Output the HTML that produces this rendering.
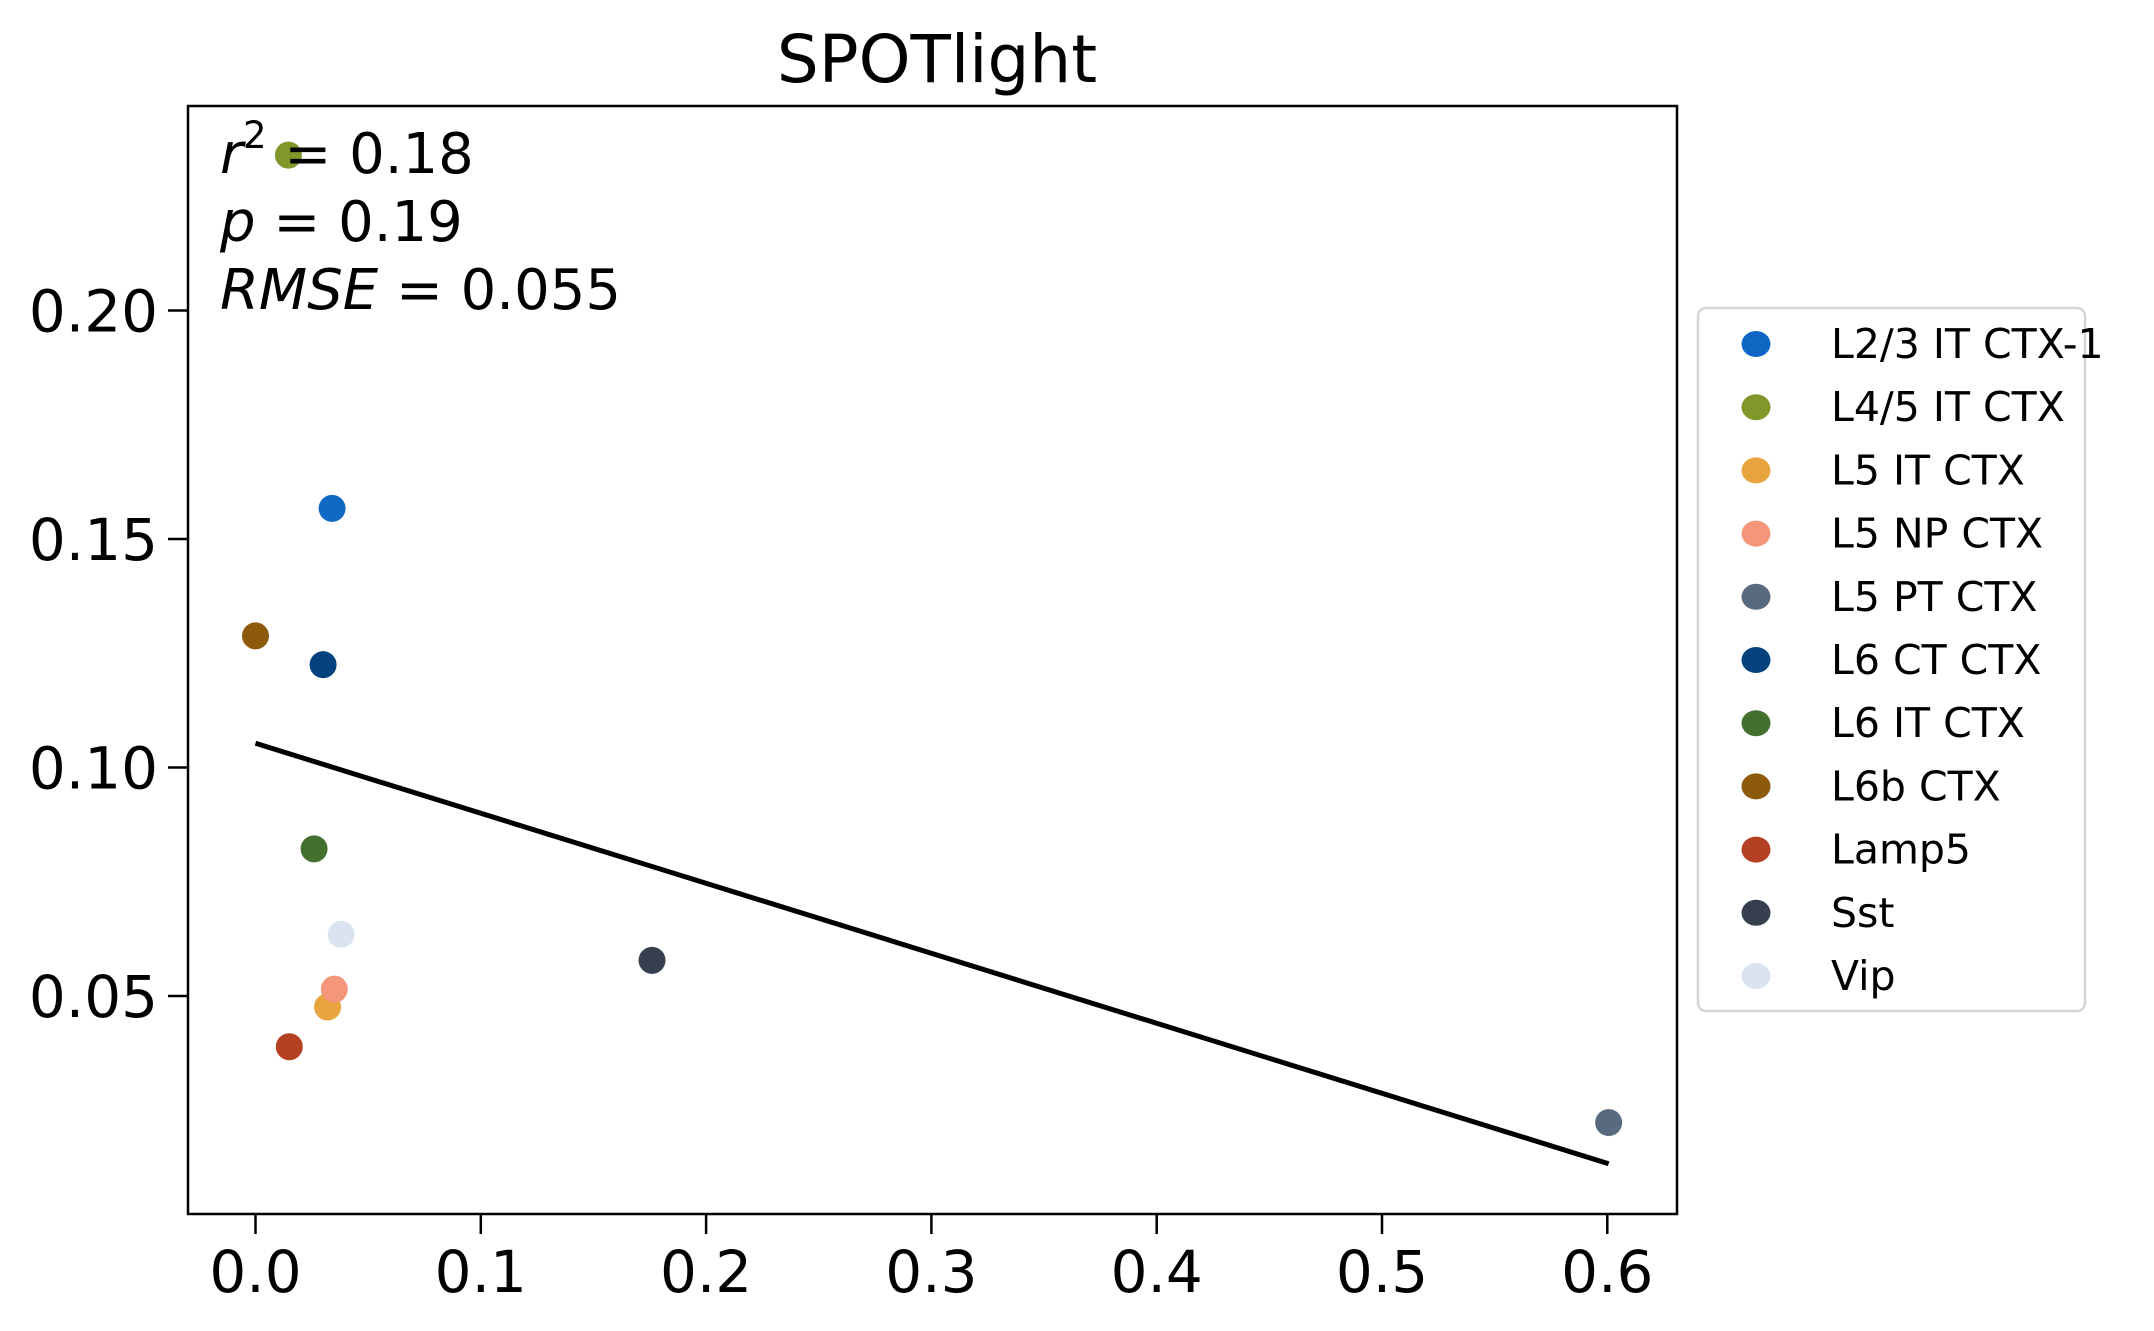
<!DOCTYPE html>
<html><head><meta charset="utf-8"><style>
html,body{margin:0;padding:0;background:#fff;}
svg{display:block;font-family:"DejaVu Sans","Liberation Sans",sans-serif;}
</style></head><body>
<svg id="chart" width="2154" height="1331" viewBox="0 0 2154 1331" xmlns="http://www.w3.org/2000/svg">
<text x="937" y="82" font-size="66" text-anchor="middle">SPOTlight</text>
<g id="plot"></g>
<g id="legend"></g>
<g id="stats" font-size="56">
<text x="220" y="173"><tspan font-style="italic">r</tspan><tspan font-size="37" dy="-25">2</tspan><tspan dy="25"> = 0.18</tspan></text>
<text x="220" y="241"><tspan font-style="italic">p</tspan> = 0.19</text>
<text x="220" y="309"><tspan font-style="italic">RMSE</tspan> = 0.055</text>
</g>
</svg>
<script>
const categories = ["L2/3 IT CTX-1","L4/5 IT CTX","L5 IT CTX","L5 NP CTX","L5 PT CTX","L6 CT CTX","L6 IT CTX","L6b CTX","Lamp5","Sst","Vip"];
const colors = ["#0f68c4","#80972a","#e8a43e","#f3967a","#586a7e","#03417f","#43702f","#8d5a0c","#b54022","#363f4d","#d9e4f0"];
const xValues = [0.034,0.0146,0.032,0.035,0.6006,0.030,0.026,0.0,0.015,0.176,0.038];
const yValues = [0.1567,0.234,0.0476,0.0515,0.0223,0.1225,0.0822,0.1288,0.0389,0.0578,0.0635];
const fitX = [0.0,0.6006];
const fitY = [0.1053,0.0133];
const xTicks = [0.0,0.1,0.2,0.3,0.4,0.5,0.6];
const xTickLabels = ["0.0","0.1","0.2","0.3","0.4","0.5","0.6"];
const yTicks = [0.05,0.10,0.15,0.20];
const yTickLabels = ["0.05","0.10","0.15","0.20"];

const NS="http://www.w3.org/2000/svg";
const L=188,R=1677,T=106,B=1214;
const xs=v=>255.5+v*2253;
const ys=v=>996-(v-0.05)*4570;
function mk(tag,attrs,parent){const e=document.createElementNS(NS,tag);for(const k in attrs)e.setAttribute(k,attrs[k]);parent.appendChild(e);return e;}
const plot=document.getElementById('plot');
const frame=mk('rect',{x:L,y:T,width:R-L,height:B-T,fill:'none',stroke:'#000','stroke-width':2.5},plot);


xTicks.forEach((t,i)=>{
  const x=xs(t);
  const tk=mk('line',{x1:x,x2:x,y1:B,y2:B+20,stroke:'#000','stroke-width':2.5},plot);
  
  
  const lb=mk('text',{x:x,y:1292,'font-size':58,'text-anchor':'middle'},plot);
  lb.textContent=xTickLabels[i];
  
  
});
yTicks.forEach((t,i)=>{
  const y=ys(t);
  const tk=mk('line',{x1:L-20,x2:L,y1:y,y2:y,stroke:'#000','stroke-width':2.5},plot);
  
  
  const lb=mk('text',{x:L-30,y:y+21,'font-size':58,'text-anchor':'end'},plot);
  lb.textContent=yTickLabels[i];
  
  
});
categories.forEach((c,i)=>{
  const p=mk('circle',{cx:xs(xValues[i]),cy:ys(yValues[i]),r:13.5,fill:colors[i]},plot);
  
  
});
const fit=mk('line',{x1:xs(fitX[0]),y1:ys(fitY[0]),x2:xs(fitX[1]),y2:ys(fitY[1]),stroke:'#000','stroke-width':5},plot);



const lg=document.getElementById('legend');
const box=mk('rect',{x:1698,y:308,width:387,height:703,rx:8,fill:'#fff',stroke:'#d5d5d5','stroke-width':2.5},lg);


categories.forEach((c,i)=>{
  const y=344+i*63.2;
  const m=mk('ellipse',{cx:1756,cy:y,rx:14.5,ry:13,fill:colors[i]},lg);
  
  
  const t=mk('text',{x:1831,y:y+14,'font-size':41},lg);
  t.textContent=c;
  
  
});
</script>
</body></html>
